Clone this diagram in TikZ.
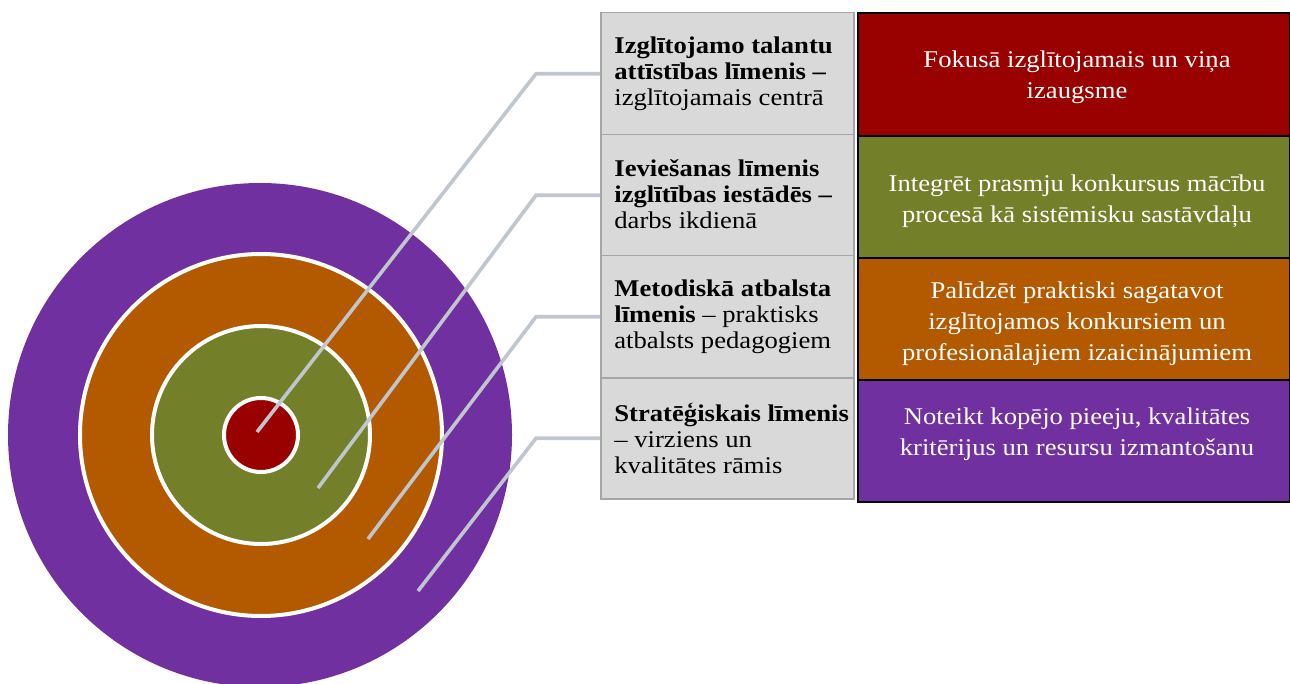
\documentclass[tikz,border=0pt]{standalone}
\usepackage{fontspec}
\setmainfont{Liberation Serif}[FakeStretch=1.11]
\definecolor{cred}{HTML}{990000}
\definecolor{cgreen}{HTML}{737F29}
\definecolor{corange}{HTML}{B35A00}
\definecolor{cpurple}{HTML}{7030A0}
\definecolor{cline}{HTML}{BFC6CD}
\definecolor{cgray}{HTML}{D9D9D9}
\definecolor{cgrayb}{HTML}{A6A6A6}
\tikzset{
  ring/.style={circle, inner sep=0pt, draw=white, line width=2pt},
  leader/.style={draw=cline, line width=1.8pt},
  graybox/.style={rectangle, anchor=north west, inner sep=0pt, fill=cgray, draw=cgrayb, line width=0.75pt, minimum width=126.5pt, minimum height=61pt},
  colbox/.style={rectangle, anchor=north west, inner sep=0pt, draw=black, line width=1pt, minimum width=216pt, minimum height=61pt},
  ltext/.style={anchor=west, align=left, inner sep=0pt, font=\fontsize{12}{13}\selectfont},
  rtext/.style={anchor=center, align=center, inner sep=0pt, text=white, font=\fontsize{12}{15.5}\selectfont}
}
\begin{document}
\begin{tikzpicture}[x=0.5pt,y=-0.5pt]
\useasboundingbox (0,0) rectangle (1290,684);
\begin{scope}
\clip (0,0) rectangle (1290,684);
\node[circle, inner sep=0pt, fill=cpurple, minimum size=252pt] (Cpurple) at (260,435) {};
\end{scope}
\node[ring, fill=corange, minimum size=181pt] (Corange) at (261,435) {};
\node[ring, fill=cgreen, minimum size=109pt] (Cgreen) at (261,435) {};
\node[ring, fill=cred, minimum size=37pt] (Cred) at (261,435) {};

% gray label boxes
\node[graybox, minimum height=61pt] (L1) at (600,12) {};
\node[graybox, minimum height=60.5pt] (L2) at (600,134) {};
\node[graybox, minimum height=61pt] (L3) at (600,255) {};
\node[graybox, minimum height=60.5pt] (L4) at (600,377) {};

% coloured boxes
\node[colbox, fill=cred, minimum height=61.5pt] (R1) at (857,12) {};
\node[colbox, fill=cgreen] (R2) at (857,135) {};
\node[colbox, fill=corange] (R3) at (857,257) {};
\node[colbox, fill=cpurple] (R4) at (857,379) {};

% leader lines
\coordinate (p1) at (257,432);
\coordinate (p2) at (318,488);
\coordinate (p3) at (368,539);
\coordinate (p4) at (418,591);
\draw[leader] (p1) -- ([xshift=-32pt]L1.west) -- (L1.west);
\draw[leader] (p2) -- ([xshift=-32pt]L2.west) -- (L2.west);
\draw[leader] (p3) -- ([xshift=-32pt]L3.west) -- (L3.west);
\draw[leader] (p4) -- ([xshift=-32pt]L4.west) -- (L4.west);

% left texts
\node[ltext] (T1) at (614,73.5) {\textbf{Izglītojamo talantu}\\\textbf{attīstības līmenis –}\\izglītojamais centrā};
\node[ltext] (T2) at (614,194.5) {\textbf{Ieviešanas līmenis}\\\textbf{izglītības iestādēs –}\\darbs ikdienā};
\node[ltext] (T3) at (614,316.5) {\textbf{Metodiskā atbalsta}\\\textbf{līmenis} – praktisks\\atbalsts pedagogiem};
\node[ltext] (T4) at (614,438.5) {\textbf{Stratēģiskais līmenis}\\– virziens un\\kvalitātes rāmis};

% right texts
\node[rtext] (S1) at (1077,77.5) {Fokusā izglītojamais un viņa\\izaugsme};
\node[rtext] (S2) at (1077,201) {Integrēt prasmju konkursus mācību\\procesā kā sistēmisku sastāvdaļu};
\node[rtext] (S3) at (1077,324) {Palīdzēt praktiski sagatavot\\izglītojamos konkursiem un\\profesionālajiem izaicinājumiem};
\node[rtext] (S4) at (1077,434.5) {Noteikt kopējo pieeju, kvalitātes\\kritērijus un resursu izmantošanu};
\end{tikzpicture}
\end{document}
